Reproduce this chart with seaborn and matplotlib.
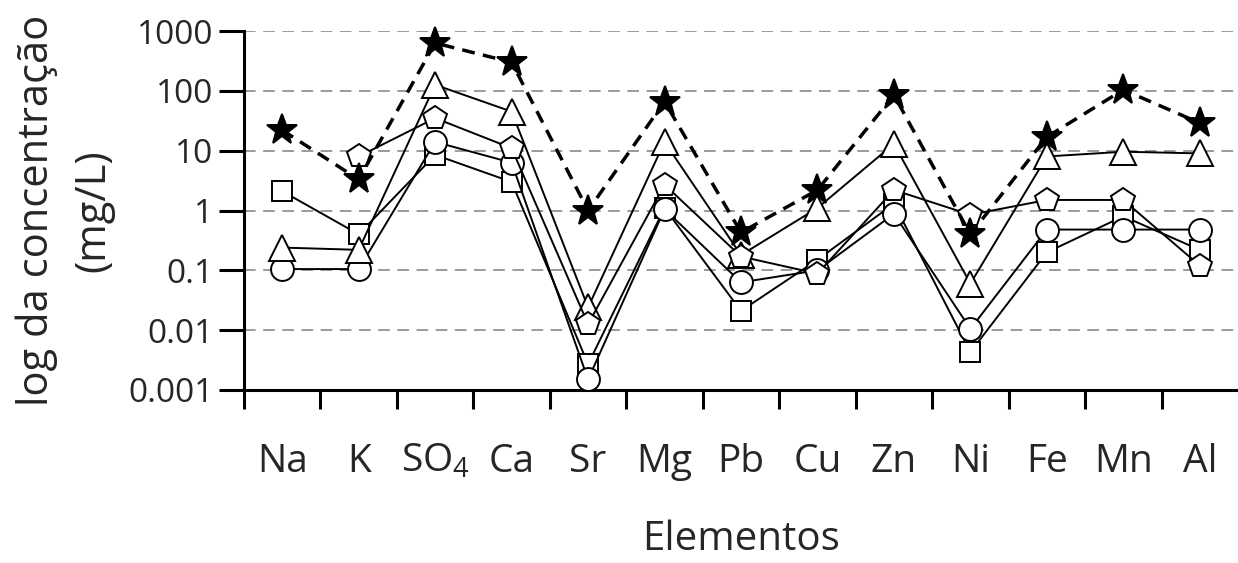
import numpy as np
import pandas as pd
import matplotlib
matplotlib.use("Agg")
import matplotlib.pyplot as plt
import seaborn as sns
from matplotlib.ticker import FixedLocator, FixedFormatter

categories = ["Na", "K", "SO$_\\mathregular{4}$", "Ca", "Sr", "Mg", "Pb", "Cu", "Zn", "Ni", "Fe", "Mn", "Al"]
y_tick_values = [0.001, 0.01, 0.1, 1, 10, 100, 1000]
y_tick_labels = ["0.001", "0.01", "0.1", "1", "10", "100", "1000"]

star_vals     = [22, 3.3, 630, 300, 1.0, 66, 0.43, 2.2, 85, 0.4, 17, 104, 29]
triangle_vals = [0.24, 0.22, 126, 45, 0.024, 14, 0.18, 1.1, 13, 0.06, 8.0, 9.6, 9.0]
pentagon_vals = [np.nan, 8.0, 35, 11, 0.0126, 2.7, 0.17, 0.088, 2.2, 0.85, 1.5, 1.5, 0.12]
circle_vals   = [0.105, 0.105, 14, 6.3, 0.0015, 1.05, 0.063, 0.1, 0.88, 0.0105, 0.48, 0.48, 0.48]
square_vals   = [2.1, 0.4, 8.5, 3.0, 0.0027, 1.1, 0.021, 0.15, 1.3, 0.0043, 0.2, 0.8, 0.22]

sns.set_theme(style="white")
plt.rcParams["font.family"] = ["Open Sans", "DejaVu Sans"]
plt.rcParams["mathtext.fontset"] = "custom"
plt.rcParams["mathtext.rm"] = "Open Sans"

fig = plt.figure(figsize=(12.38, 5.63), dpi=100)
ax = fig.add_axes([244/1238, 1 - 390/563, 1 - 244/1238, (390 - 31)/563])

x = np.arange(len(categories))

series = [
    ("square", square_vals, "s", 15, "white", "-", 1.4, 3),
    ("circle", circle_vals, "o", 16.5, "white", "-", 1.4, 4),
    ("triangle", triangle_vals, "^", 19, "white", "-", 1.4, 5),
    ("pentagon", pentagon_vals, "p", 17.5, "white", "-", 1.4, 6),
    ("star", star_vals, "*", 23, "black", "--", 2.5, 7),
]

for name, vals, mk, ms, fc, ls, lw, z in series:
    df = pd.DataFrame({"x": x, "y": vals}).dropna()
    sns.lineplot(data=df, x="x", y="y", ax=ax, color="black", linestyle=ls,
                 linewidth=lw, marker=mk, markersize=ms, markerfacecolor=fc,
                 markeredgecolor="black", markeredgewidth=1.4, zorder=z,
                 clip_on=False, legend=False)

for line in ax.get_lines():
    if line.get_linestyle() == "--":
        line.set_dashes([3.7, 2.4])

ax.set_yscale("log")
ax.set_ylim(0.001, 1000)
ax.set_xlim(-0.5, 12.5)

for v in y_tick_values[1:]:
    ax.axhline(v, color="#8a8a8a", linestyle=(0, (7, 4.5)), linewidth=1.2, zorder=1)

ax.yaxis.set_major_locator(FixedLocator(y_tick_values))
ax.yaxis.set_major_formatter(FixedFormatter(y_tick_labels))
ax.yaxis.set_minor_locator(FixedLocator([]))
ax.set_xticks(x)
ax.set_xticklabels(categories)
ax.set_xticks(np.arange(-0.5, 12, 1.0), minor=True)

ax.tick_params(axis="y", which="major", direction="out", length=18, width=2.2,
               labelsize=24, pad=4, left=True, color="black")
ax.tick_params(axis="x", which="major", length=0, labelsize=28, pad=38)
ax.tick_params(axis="x", which="minor", direction="out", length=14, width=2.2,
               bottom=True, color="black")

for s in ["top", "right"]:
    ax.spines[s].set_visible(False)
for s in ["left", "bottom"]:
    ax.spines[s].set_color("black")
    ax.spines[s].set_linewidth(2.2)

ax.set_ylabel("log da concentração\n(mg/L)", fontsize=30, labelpad=10, linespacing=1.45)
ax.set_xlabel("Elementos", fontsize=29, labelpad=28)

fig.savefig("out.png", dpi=100)
